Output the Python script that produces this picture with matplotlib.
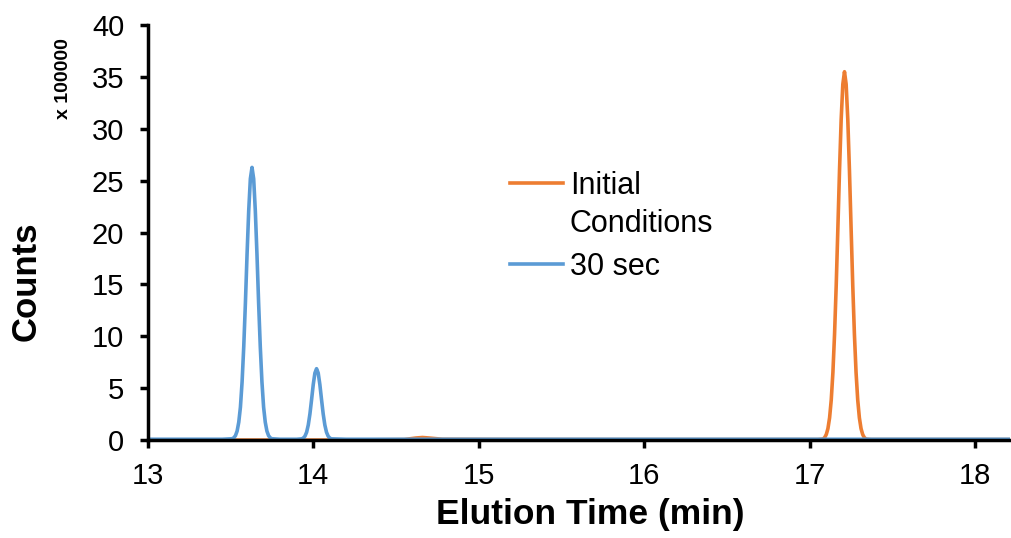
import matplotlib
matplotlib.use("Agg")
import matplotlib.pyplot as plt
from matplotlib.lines import Line2D

plt.rcParams['font.family'] = ['Liberation Sans', 'DejaVu Sans']

# (counts in units of 100000)
t_initial = [13.00, 13.50, 14.10, 14.55, 14.62, 14.66, 14.70, 14.78, 15.20, 16.00, 16.80, 17.05,
             17.08, 17.09, 17.10, 17.11, 17.12, 17.13, 17.14, 17.15, 17.16, 17.17, 17.18,
             17.19, 17.20, 17.21, 17.22, 17.23, 17.24, 17.25, 17.26, 17.27, 17.28, 17.29,
             17.30, 17.31, 17.32, 17.33, 17.34, 17.37, 17.60, 18.21]
c_initial = [0.03, 0.00, 0.00, 0.05, 0.20, 0.25, 0.20, 0.08, 0.06, 0.05, 0.05, 0.05,
             0.10, 0.24, 0.54, 1.11, 2.15, 3.87, 6.5, 10.2, 14.9, 20.4, 26.0,
             30.9, 34.3, 35.5, 34.3, 30.9, 26.0, 20.4, 14.9, 10.2, 6.5, 3.87,
             2.15, 1.11, 0.54, 0.24, 0.10, 0.05, 0.05, 0.05]

t_30sec = [13.00, 13.45, 13.51, 13.52, 13.53, 13.54, 13.55, 13.56, 13.57, 13.58, 13.59,
           13.60, 13.61, 13.62, 13.63, 13.64, 13.65, 13.66, 13.67, 13.68, 13.69, 13.70,
           13.71, 13.72, 13.73, 13.74, 13.75, 13.80, 13.90, 13.93, 13.94, 13.95, 13.96,
           13.97, 13.98, 13.99, 14.00, 14.01, 14.02, 14.03, 14.04, 14.05, 14.06, 14.07,
           14.08, 14.09, 14.10, 14.11, 14.20, 15.00, 16.00, 17.00, 18.21]
c_30sec = [0.08, 0.08, 0.13, 0.22, 0.43, 0.87, 1.73, 3.18, 5.6, 8.98, 13.18,
           17.88, 22.08, 25.18, 26.28, 25.18, 22.08, 17.88, 13.18, 8.98, 5.6, 3.18,
           1.73, 0.87, 0.43, 0.22, 0.13, 0.08, 0.08, 0.12, 0.19, 0.38, 0.76,
           1.46, 2.53, 3.91, 5.35, 6.46, 6.88, 6.46, 5.35, 3.91, 2.53, 1.46,
           0.76, 0.38, 0.19, 0.12, 0.08, 0.08, 0.08, 0.08, 0.08]

series_labels = ["Initial", "30 sec"]
label_extra = "Conditions"
x_ticks = [13, 14, 15, 16, 17, 18]
y_ticks = [0, 5, 10, 15, 20, 25, 30, 35, 40]

orange = "#ED7D31"
blue = "#5B9BD5"
lw = 2.6

fig = plt.figure(figsize=(10.12, 5.38), dpi=100)
ax = fig.add_axes([0.146, 0.182, 0.852, 0.7715])

ax.plot(t_initial, c_initial, color=orange, lw=lw, solid_joinstyle='round')
ax.plot(t_30sec, c_30sec, color=blue, lw=lw, solid_joinstyle='round')

ax.set_xlim(13, 18.21)
ax.set_ylim(0, 40)
ax.set_xticks(x_ticks)
ax.set_yticks(y_ticks)
for s in ['top', 'right']:
    ax.spines[s].set_visible(False)
for s in ['left', 'bottom']:
    ax.spines[s].set_linewidth(2.5)
ax.tick_params(axis='both', direction='out', length=6, width=2.5, labelsize=21)
ax.tick_params(axis='x', pad=10)
ax.tick_params(axis='y', pad=11)

fig.text(0.026, 0.478, "Counts", rotation=90, ha='center', va='center',
         fontsize=25, fontweight='bold')
fig.text(0.063, 0.854, "x 100000", rotation=90, ha='center', va='center',
         fontsize=14, fontweight='bold')
fig.text(0.583, 0.043, "Elution Time (min)", ha='center', va='center',
         fontsize=25.5, fontweight='bold')

handles = [Line2D([], [], color=orange, lw=lw), Line2D([], [], color=blue, lw=lw)]
leg = ax.legend(handles, series_labels, frameon=False, fontsize=22,
                loc='upper left', bbox_to_anchor=(0.504, 0.682),
                bbox_transform=fig.transFigure, borderpad=0, borderaxespad=0,
                handlelength=1.73, handletextpad=0.23, labelspacing=1.66)
ax.annotate(label_extra, xy=(0, 0), xycoords=leg.get_texts()[0],
            xytext=(0, -27.5), textcoords='offset points',
            ha='left', va='bottom', fontsize=22, zorder=6)

fig.canvas.draw()
fig.savefig("out.png", dpi=100)
